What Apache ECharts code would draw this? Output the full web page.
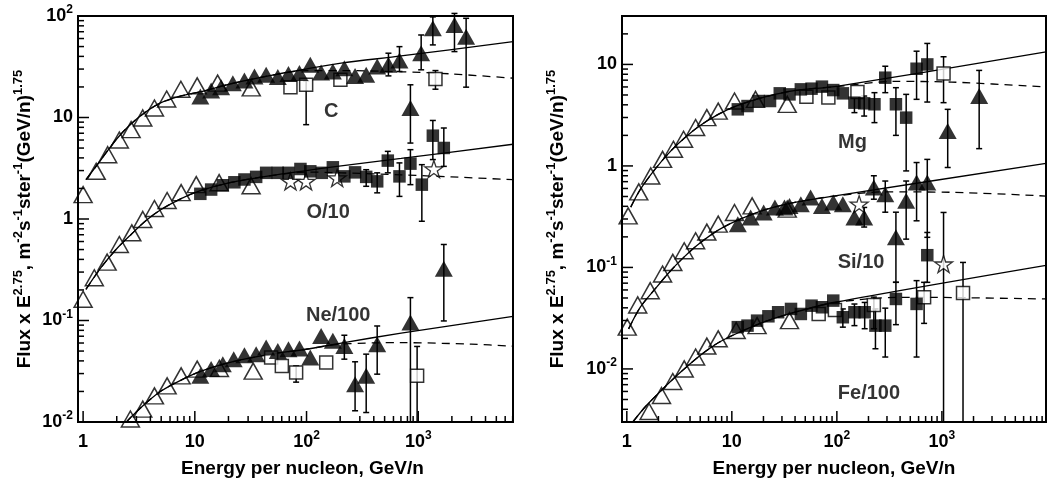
<!DOCTYPE html>
<html><head><meta charset="utf-8">
<script src="https://cdn.jsdelivr.net/npm/echarts@6/dist/echarts.min.js"></script>
<style>html,body{margin:0;padding:0;background:#fff}#c{width:1049px;height:483px}</style>
</head><body><div id="c"></div>
<script>
// ---------------- LEFT PANEL DATA (E in GeV/n, Flux x E^2.75) ----------------
const C_openTri = [[1.0,1.74],[1.31,2.95],[1.66,4.3],[2.11,6.0],[2.69,7.6],[3.42,9.9],[4.35,12.4],[5.6,15.2],[7.5,19.0],[10.5,20.5],[16,21.8],[32,19.6]];
const C_fillTri = [[11.2,16.1],[14.0,18.5],[17.2,19.9],[21.9,21.8],[27.8,23.1],[34.2,25.3],[43.5,26.3],[55.3,25.0],[68.9,26.9],[86.4,27.4],[108,33.0],[135,27.7],[172,28.4],[218,30.6],[272,25.7],[342,26.3],[429,31.8],[541,33.0],[679,36.4],[851,12.4],[1062,43],[1351,75.7],[2110,81.6],[2683,62.6]];
const C_fillTriErr = [[541,25.7,43],[679,28.4,49.9],[851,5.6,21.0],[1062,29.5,65],[1351,51.9,98],[2110,44.6,106],[2683,19.9,94.9]];
const C_openSq = [[71.8,19.9],[99.2,21.0],[201,23.5],[1426,23.9]];
const C_openSqErr = [[99.2,8.5,23.0],[1426,19,29]];
const C_fit = [[1.06,2.44],[1.45,3.85],[1.97,6.04],[2.69,8.68],[3.66,11.4],[4.99,14.0],[7.54,16.3],[11.4,18.0],[21.1,21.5],[48.2,26.0],[99,30.0],[204,34.3],[703,40.4],[7050,55.9]];
const C_fitDash = [[1.06,2.44],[1.45,3.85],[1.97,6.04],[2.69,8.68],[3.66,11.4],[4.99,14.0],[7.54,16.3],[11.4,18.0],[21.1,21.5],[48.2,26.0],[99,29.0],[204,29.0],[703,28.2],[1972,26.9],[7050,24.4]];

const O_openTri = [[1.0,0.162],[1.26,0.264],[1.64,0.376],[2.11,0.561],[2.73,0.731],[3.42,0.99],[4.35,1.27],[5.65,1.52],[7.54,1.82],[10.3,2.18],[16.5,2.28],[31.9,2.13]];
const O_fillSq = [[11.2,1.77],[14.0,1.95],[17.8,2.15],[22.6,2.30],[27.8,2.45],[35.4,2.60],[43.5,2.85],[55.3,2.85],[68.9,2.85],[88.2,3.11],[108,2.95],[137,2.85],[172,3.23],[218,2.63],[272,2.88],[342,2.60],[429,2.35],[534,3.76],[679,2.63],[851,3.51],[1077,2.18],[1351,6.62],[1694,5.01]];
const O_fillSqErr = [[342,2.10,3.06],[429,1.81,2.85],[534,2.85,4.64],[679,1.67,3.57],[851,2.18,4.82],[1077,0.95,3.43],[1351,3.85,9.35],[1694,3.30,7.88]];
const O_star = [[71.8,2.35],[99,2.35],[188,2.54],[1380,3.11]];
const O_fit = [[1.06,0.203],[1.45,0.333],[1.97,0.501],[2.69,0.705],[3.66,0.966],[4.99,1.24],[7.54,1.59],[11.4,1.91],[21.1,2.29],[48.2,2.68],[99,3.0],[188,3.30],[703,3.95],[7050,5.45]];
const O_fitDash = [[1.06,0.203],[1.45,0.333],[1.97,0.501],[2.69,0.705],[3.66,0.966],[4.99,1.24],[7.54,1.59],[11.4,1.91],[21.1,2.29],[48.2,2.68],[99,2.9],[204,2.85],[703,2.72],[1972,2.6],[7050,2.44]];

const Ne_openTri = [[2.65,0.0107],[3.42,0.0134],[4.35,0.0181],[5.65,0.0227],[7.54,0.0285],[10.5,0.0332],[16.6,0.0337],[33.3,0.0317]];
const Ne_fillTri = [[11.2,0.0285],[14.0,0.0332],[17.8,0.0371],[22.3,0.0416],[27.8,0.0455],[35.4,0.0466],[43.5,0.0542],[55.3,0.0502],[68.9,0.0521],[86.4,0.0530],[108,0.0432],[135,0.0705],[172,0.0630],[218,0.0562],[272,0.0236],[342,0.0285],[429,0.0585],[851,0.0955],[1694,0.324]];
const Ne_fillTriErr = [[218,0.0416,0.0716],[272,0.0129,0.0392],[342,0.0124,0.0466],[429,0.0296,0.0883],[851,0.01,0.168],[1694,0.099,0.561]];
const Ne_openSq = [[48.2,0.0432],[60.1,0.0357],[80.7,0.0308],[150,0.0386],[977,0.0285]];
const Ne_openSqErr = [[80.7,0.0247,0.0357],[977,0.01,0.0555]];
const Ne_fit = [[2.4,0.0098],[2.69,0.0112],[3.66,0.0154],[4.99,0.0202],[7.54,0.0259],[11.4,0.0317],[21.1,0.0389],[48.2,0.0466],[99,0.0521],[204,0.0600],[703,0.075],[7050,0.110]];
const Ne_fitDash = [[2.4,0.0098],[2.69,0.0112],[3.66,0.0154],[4.99,0.0202],[7.54,0.0259],[11.4,0.0317],[21.1,0.0389],[48.2,0.0466],[99,0.0521],[204,0.0585],[703,0.0605],[2978,0.0585],[7050,0.0558]];

// ---------------- RIGHT PANEL DATA ----------------
const Mg_openTri = [[1.03,0.322],[1.30,0.555],[1.69,0.797],[2.19,1.16],[2.78,1.46],[3.47,1.83],[4.52,2.39],[5.78,2.99],[7.42,3.47],[10.6,4.36],[16.8,4.53],[33.7,4.04]];
const Mg_fillSq = [[11.4,3.61],[14.1,3.89],[18.0,4.36],[23.1,4.36],[28.6,5.19],[35.4,5.07],[45.4,5.68],[57.4,5.77],[72.1,6.04],[92.4,5.59],[114,5.19],[147,4.20],[182,4.14],[228,4.05],[289,7.40],[365,4.05],[457,2.99],[574,9.07],[726,10.0]];
const Mg_fillSqErr = [[147,3.35,4.7],[182,3.10,4.88],[228,2.67,5.27],[289,5.27,9.6],[365,2.0,5.9],[457,0.893,5.07],[574,4.53,13.5],[726,4.26,16.1]];
const Mg_openSq = [[51.3,4.81],[83.0,4.71],[157,5.34],[1037,8.16]];
const Mg_openSqErr = [[1037,4.20,11.9]];
const Mg_fillTri = [[1136,2.21],[2264,4.88]];
const Mg_fillTriErr = [[1136,0.965,3.61],[2264,1.48,8.73]];
const Mg_fit = [[1.09,0.393],[1.35,0.590],[1.86,0.929],[2.55,1.36],[3.52,1.87],[4.84,2.45],[7.42,3.22],[11.4,3.95],[21.6,4.84],[40.8,5.55],[103,6.12],[9800,13.3]];
const Mg_fitDash = [[1.09,0.393],[1.35,0.590],[1.86,0.929],[2.55,1.36],[3.52,1.87],[4.84,2.45],[7.42,3.22],[11.4,3.95],[21.6,4.84],[40.8,5.55],[103,6.07],[344,6.8],[1238,6.7],[9800,6.0]];

const Si_openTri = [[1.01,0.0258],[1.27,0.0427],[1.67,0.0590],[2.19,0.0861],[2.74,0.112],[3.52,0.146],[4.52,0.183],[5.78,0.223],[7.42,0.267],[10.6,0.348],[15.6,0.404],[33.7,0.375]];
const Si_fillTri = [[11.4,0.267],[15.1,0.311],[20.1,0.348],[25.7,0.390],[31.7,0.390],[35.4,0.404],[45.4,0.420],[56.2,0.489],[72.1,0.404],[92.4,0.437],[114,0.420],[147,0.311],[182,0.311],[225,0.613],[289,0.527],[365,0.198],[457,0.453],[574,0.687],[726,0.687]];
const Si_fillTriErr = [[182,0.25,0.39],[225,0.47,0.80],[289,0.35,0.71],[365,0.0714,0.35],[457,0.19,0.71],[574,0.288,1.08],[726,0.198,1.16]];
const Si_star = [[163,0.420]];
const Si_fit = [[1.04,0.0248],[1.35,0.0408],[1.86,0.0614],[2.55,0.0902],[3.52,0.127],[4.84,0.170],[7.42,0.233],[11.4,0.292],[21.6,0.375],[40.8,0.440],[95.8,0.507],[9800,1.06]];
const Si_fitDash = [[1.04,0.0248],[1.35,0.0408],[1.86,0.0614],[2.55,0.0902],[3.52,0.127],[4.84,0.170],[7.42,0.233],[11.4,0.292],[21.6,0.375],[40.8,0.440],[95.8,0.505],[278,0.555],[1238,0.55],[9800,0.505]];

const Fe_openTri = [[1.63,0.00381],[2.14,0.00547],[2.74,0.00752],[3.52,0.0100],[4.52,0.0131],[5.78,0.0168],[7.42,0.0198],[11.0,0.0239],[17.4,0.0267],[35.4,0.0299]];
const Fe_fillSq = [[11.4,0.0258],[14.1,0.0267],[17.4,0.0299],[22.3,0.0330],[27.6,0.0362],[36.6,0.0390],[45.4,0.0348],[57.4,0.0420],[72.1,0.0405],[92.4,0.0471],[114,0.0323],[147,0.0362],[184,0.0362],[233,0.0267],[289,0.0267],[365,0.0489],[574,0.0437],[726,0.132]];
const Fe_fillSqErr = [[114,0.0258,0.0390],[147,0.0267,0.0436],[184,0.0249,0.0452],[233,0.0158,0.0390],[289,0.0131,0.0397],[365,0.0273,0.0713],[574,0.0131,0.0741],[726,0.0713,0.221]];
const Fe_openSq = [[67.1,0.0348],[95.8,0.0381],[225,0.0427],[677,0.0508],[1589,0.056]];
const Fe_openSqErr = [[225,0.0249,0.051],[677,0.0281,0.0713],[1589,0.003,0.112]];
const Fe_star = [[1037,0.108]];
const Fe_starErr = [[1037,0.003,0.348]];
const Fe_fit = [[1.14,0.0030],[1.50,0.00424],[2.07,0.00595],[2.84,0.00817],[3.91,0.0110],[5.39,0.0144],[7.42,0.0181],[11.4,0.0226],[21.6,0.0297],[40.8,0.0364],[95.8,0.0454],[9800,0.105]];
const Fe_fitDash = [[1.14,0.0030],[1.50,0.00424],[2.07,0.00595],[2.84,0.00817],[3.91,0.0110],[5.39,0.0144],[7.42,0.0181],[11.4,0.0226],[21.6,0.0297],[40.8,0.0364],[95.8,0.045],[397,0.0508],[1238,0.0505],[9800,0.0489]];

// ---------------- LABELS & AXES ----------------
const labelsLeft = [['C',166,11.4],['O/10',156,1.16],['Ne/100',192,0.113]];
const labelsRight = [['Mg',141,1.71],['Si/10',170,0.113],['Fe/100',202,0.00569]];
const xRangeLeft = [0.9, 7050];
const xRangeRight = [0.9, 9800];
const yRangeLeft = [0.01, 100];
const yRangeRight = [0.003, 30];
const xTitle = 'Energy per nucleon, GeV/n';
const yTitle = 'Flux x E{s|2.75}, m{s|-2}s{s|-1}ster{s|-1}(GeV/n){s|1.75}';

const FONT = '"Liberation Sans", Arial, Helvetica, sans-serif';
const STAR = 'path://M0,-10L2.25,-3.09L9.51,-3.09L3.63,1.18L5.88,8.09L0,3.82L-5.88,8.09L-3.63,1.18L-9.51,-3.09L-2.25,-3.09Z';

function logFmt(v) {
  const l = Math.log10(v), e = Math.round(l);
  if (Math.abs(l - e) > 1e-6) return '';
  if (e === 0) return '1';
  if (e === 1) return '10';
  return '10{s|' + (e < 0 ? '-' + (-e) : e) + '}';
}
const supStyle = {fontSize: 12, fontWeight: 'bold', fontFamily: FONT, color: '#000', lineHeight: 12, verticalAlign: 'top'};

function xAxis(gi, range) {
  return {type: 'log', logBase: 10, gridIndex: gi, min: range[0], max: range[1],
    axisLine: {show: false}, axisTick: {show: false}, splitLine: {show: false},
    axisLabel: {formatter: logFmt, fontSize: 18, fontWeight: 'bold', fontFamily: FONT, color: '#000',
      lineHeight: 24, margin: 8, rich: {s: supStyle}},
    name: xTitle, nameLocation: 'middle', nameGap: 37,
    nameTextStyle: {fontSize: 19, fontWeight: 'bold', fontFamily: FONT, color: '#000', padding: gi === 0 ? [0,0,0,14] : 0}};
}
function yAxis(gi, range, gap) {
  return {type: 'log', logBase: 10, gridIndex: gi, min: range[0], max: range[1],
    axisLine: {show: false}, axisTick: {show: false}, splitLine: {show: false},
    axisLabel: {formatter: logFmt, fontSize: 18, fontWeight: 'bold', fontFamily: FONT, color: '#000',
      lineHeight: 24, margin: 5, rich: {s: supStyle}},
    name: yTitle, nameLocation: 'middle', nameGap: gap, nameRotate: 90,
    nameTextStyle: {fontSize: 19, fontWeight: 'bold', fontFamily: FONT, color: '#000', lineHeight: 26,
      rich: {s: {fontSize: 13, fontWeight: 'bold', fontFamily: FONT, color: '#000', lineHeight: 12, verticalAlign: 'top'}}}};
}

function curve(ax, data, dashed) {
  return {type: 'line', xAxisIndex: ax, yAxisIndex: ax, data: data, symbol: 'none', showSymbol: false,
    smooth: 0.3, silent: true, z: 1, lineStyle: {color: '#000', width: 1.3, type: dashed ? [8, 6] : 'solid'}};
}
function errBars(ax, data, floor) {
  return {type: 'custom', xAxisIndex: ax, yAxisIndex: ax, data: data, encode: {x: 0, y: [1, 2]},
    clip: false, silent: true, z: 2,
    renderItem: function (params, api) {
      const x = api.value(0), lo = api.value(1), hi = api.value(2);
      const a = api.coord([x, lo]), b = api.coord([x, hi]);
      const st = {stroke: '#000', lineWidth: 1.5};
      const ch = [{type: 'line', shape: {x1: a[0], y1: a[1], x2: b[0], y2: b[1]}, style: st}];
      if (lo > floor * 1.001) ch.push({type: 'line', shape: {x1: a[0] - 3, y1: a[1], x2: a[0] + 3, y2: a[1]}, style: st});
      ch.push({type: 'line', shape: {x1: b[0] - 3, y1: b[1], x2: b[0] + 3, y2: b[1]}, style: st});
      return {type: 'group', children: ch};
    }};
}
function marks(ax, data, kind) {
  const s = {type: 'scatter', xAxisIndex: ax, yAxisIndex: ax, data: data, silent: true, z: 3};
  if (kind === 'openTri') { s.symbol = 'triangle'; s.symbolSize = [18, 16]; s.itemStyle = {color: 'rgba(255,255,255,0)', borderColor: '#000', borderWidth: 1.5}; }
  if (kind === 'fillTri') { s.symbol = 'triangle'; s.symbolSize = [18, 16]; s.itemStyle = {color: '#000'}; s.z = 5; }
  if (kind === 'fillSq') { s.symbol = 'rect'; s.symbolSize = 12.5; s.itemStyle = {color: '#000'}; s.z = 5; }
  if (kind === 'openSq') { s.symbol = 'rect'; s.symbolSize = 13; s.itemStyle = {color: '#fff', borderColor: '#000', borderWidth: 1.5}; s.z = 4; }
  if (kind === 'star') { s.symbol = STAR; s.symbolKeepAspect = true; s.symbolSize = 18; s.itemStyle = {color: '#fff', borderColor: '#000', borderWidth: 1.3}; s.z = 4; }
  return s;
}
function tickVals(range) {
  const out = [];
  for (let e = -3; e <= 4; e++) for (let m = 1; m <= 9; m++) {
    const v = m * Math.pow(10, e);
    if (v > range[0] * 1.0001 && v < range[1] * 0.9999) out.push([v, m === 1 ? 1 : 0]);
  }
  return out;
}
function xTicks(ax, xr, yr) {
  return {type: 'custom', xAxisIndex: ax, yAxisIndex: ax, silent: true, z: 6, clip: false,
    data: tickVals(xr).map(t => [t[0], yr[0], t[1]]), encode: {x: 0, y: 1},
    renderItem: function (p, api) {
      const c = api.coord([api.value(0), api.value(1)]);
      const len = api.value(2) ? 11 : 6;
      return {type: 'line', shape: {x1: c[0], y1: c[1], x2: c[0], y2: c[1] - len}, style: {stroke: '#000', lineWidth: 1.5}};
    }};
}
function yTicks(ax, xr, yr) {
  return {type: 'custom', xAxisIndex: ax, yAxisIndex: ax, silent: true, z: 6, clip: false,
    data: tickVals(yr).map(t => [xr[0], t[0], t[1]]), encode: {x: 0, y: 1},
    renderItem: function (p, api) {
      const c = api.coord([api.value(0), api.value(1)]);
      const len = api.value(2) ? 11 : 6;
      return {type: 'line', shape: {x1: c[0], y1: c[1], x2: c[0] + len, y2: c[1]}, style: {stroke: '#000', lineWidth: 1.5}};
    }};
}
function textLabels(ax, arr) {
  return {type: 'scatter', xAxisIndex: ax, yAxisIndex: ax, symbolSize: 0, silent: true, z: 7,
    data: arr.map(a => ({name: a[0], value: [a[1], a[2]]})),
    label: {show: true, position: 'inside', formatter: '{b}', fontSize: 20, fontWeight: 'bold', fontFamily: FONT, color: '#000'}};
}

const series = [
  curve(0, C_fit, false), curve(0, C_fitDash, true),
  curve(0, O_fit, false), curve(0, O_fitDash, true),
  curve(0, Ne_fit, false), curve(0, Ne_fitDash, true),
  curve(1, Mg_fit, false), curve(1, Mg_fitDash, true),
  curve(1, Si_fit, false), curve(1, Si_fitDash, true),
  curve(1, Fe_fit, false), curve(1, Fe_fitDash, true),
  errBars(0, C_fillTriErr, yRangeLeft[0]), errBars(0, C_openSqErr, yRangeLeft[0]),
  errBars(0, O_fillSqErr, yRangeLeft[0]),
  errBars(0, Ne_fillTriErr, yRangeLeft[0]), errBars(0, Ne_openSqErr, yRangeLeft[0]),
  errBars(1, Mg_fillSqErr, yRangeRight[0]), errBars(1, Mg_openSqErr, yRangeRight[0]), errBars(1, Mg_fillTriErr, yRangeRight[0]),
  errBars(1, Si_fillTriErr, yRangeRight[0]),
  errBars(1, Fe_fillSqErr, yRangeRight[0]), errBars(1, Fe_openSqErr, yRangeRight[0]), errBars(1, Fe_starErr, yRangeRight[0]),
  marks(0, C_openTri, 'openTri'), marks(0, C_openSq, 'openSq'), marks(0, C_fillTri, 'fillTri'),
  marks(0, O_openTri, 'openTri'), marks(0, O_star, 'star'), marks(0, O_fillSq, 'fillSq'),
  marks(0, Ne_openTri, 'openTri'), marks(0, Ne_openSq, 'openSq'), marks(0, Ne_fillTri, 'fillTri'),
  marks(1, Mg_openTri, 'openTri'), marks(1, Mg_openSq, 'openSq'), marks(1, Mg_fillSq, 'fillSq'), marks(1, Mg_fillTri, 'fillTri'),
  marks(1, Si_openTri, 'openTri'), marks(1, Si_star, 'star'), marks(1, Si_fillTri, 'fillTri'),
  marks(1, Fe_openTri, 'openTri'), marks(1, Fe_openSq, 'openSq'), marks(1, Fe_star, 'star'), marks(1, Fe_fillSq, 'fillSq'),
  xTicks(0, xRangeLeft, yRangeLeft), yTicks(0, xRangeLeft, yRangeLeft),
  xTicks(1, xRangeRight, yRangeRight), yTicks(1, xRangeRight, yRangeRight),
  textLabels(0, labelsLeft), textLabels(1, labelsRight)
];

const chart = echarts.init(document.getElementById('c'), null, {renderer: 'canvas'});
chart.setOption({
  animation: false,
  backgroundColor: '#fff',
  grid: [
    {left: 78, top: 16, width: 435, height: 407, show: true, borderColor: '#000', borderWidth: 2, backgroundColor: 'transparent'},
    {left: 622, top: 16, width: 436, height: 407, show: true, borderColor: '#000', borderWidth: 2, backgroundColor: 'transparent'}
  ],
  xAxis: [xAxis(0, xRangeLeft), xAxis(1, xRangeRight)],
  yAxis: [yAxis(0, yRangeLeft, 40), yAxis(1, yRangeRight, 51)],
  series: series
});
</script>
</body></html>
